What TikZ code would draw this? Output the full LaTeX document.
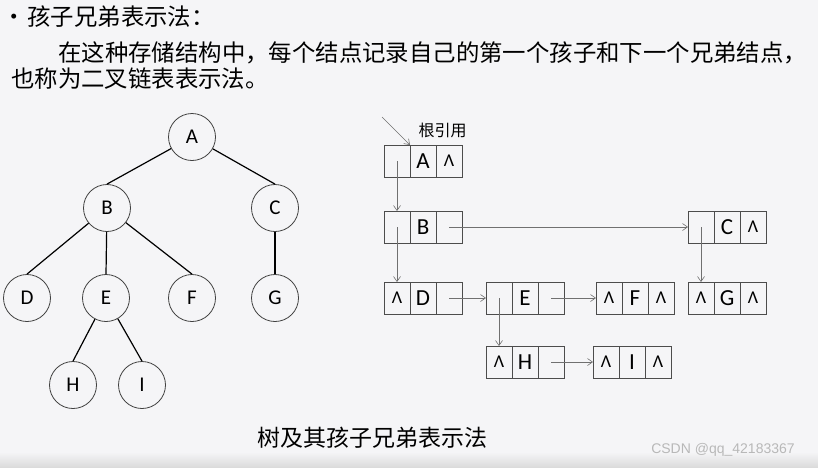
\documentclass[tikz,border=0pt]{standalone}
\usepackage{fontspec}
\setmainfont{Carlito}
\newfontfamily\cjk{Noto Sans CJK SC}
\newfontfamily\wmfont{Liberation Sans}
\usetikzlibrary{arrows.meta,positioning}
\definecolor{bg}{HTML}{F5F5F7}
\definecolor{ptrgray}{HTML}{707070}
\newcommand{\nil}{{\fontsize{18}{18}\selectfont Λ}}
\tikzset{
  treenode/.style={circle, draw=black!75, line width=0.8pt, minimum size=47pt, inner sep=0pt, font=\fontsize{21}{21}\selectfont},
  cell/.style={draw=black!70, line width=0.9pt, minimum width=26pt, minimum height=32pt, inner sep=0pt, outer sep=0pt, font=\fontsize{23}{23}\selectfont},
  ptr/.style={draw=ptrgray, line width=0.6pt, -{Straight Barb[length=5pt,width=7pt]}},
}
\begin{document}
\begin{tikzpicture}[x=1pt, y=-1pt]
    \fill[bg] (0,0) rectangle (818,467);
    \shade[top color=bg, bottom color=black!14] (0,452) rectangle (818,467);
    % heading and text
    \node[anchor=west, inner sep=0pt, font=\cjk\fontsize{23.4}{23.4}\selectfont] (title) at (2,17) {•\hspace{2pt}孩子兄弟表示法：};
    \node[anchor=west, inner sep=0pt, font=\cjk\fontsize{23.4}{23.4}\selectfont] (line1) at (58,53) {在这种存储结构中，每个结点记录自己的第一个孩子和下一个兄弟结点，};
    \node[anchor=west, inner sep=0pt, font=\cjk\fontsize{23.4}{23.4}\selectfont] (line2) at (11,79) {也称为二叉链表表示法。};
    % the tree
    \node[treenode] (A) at (192,137) {A};
    \node[treenode] (B) at (107,208) {B};
    \node[treenode] (C) at (275,208) {C};
    \node[treenode] (D) at (27,298) {D};
    \node[treenode] (E) at (106,298) {E};
    \node[treenode] (F) at (192,298) {F};
    \node[treenode] (G) at (275,298) {G};
    \node[treenode] (H) at (73,385) {H};
    \node[treenode] (I) at (142,385) {I};
    \draw[line width=1.2pt] (A) -- (B.north);
    \draw[line width=1.2pt] (A) -- (C.north);
    \draw[line width=1.2pt] (B) -- (D.north);
    \draw[line width=1.2pt] (B) -- (E.north);
    \draw[line width=1.2pt] (B) -- (F.north);
    \draw[line width=1.2pt] (C) -- (G.north);
    \draw[line width=1.2pt] (E) -- (H.north);
    \draw[line width=1.2pt] (E) -- (I.north);
    % child-sibling list
    \foreach \n/\x/\y/\l/\m/\r in {a/384/161/{}/A/\nil, b/384/227/{}/B/{}, c/688/227/{}/C/\nil,
        d/384/298/\nil/D/{}, e/486/298/{}/E/{}, f/596/298/\nil/F/\nil, g/688/298/\nil/G/\nil,
        h/486/362/\nil/H/{}, i/593/362/\nil/I/\nil} {
      \node[cell, anchor=west] (\n1) at (\x,\y) {\l};
      \node[cell, right=0pt of \n1] (\n2) {\m};
      \node[cell, right=0pt of \n2] (\n3) {\r};
    }
    \coordinate (rootref) at (382,117);
    \node[anchor=west, font=\cjk\fontsize{16}{16}\selectfont] (rootlbl) at (415,130) {根引用};
    \draw[ptr] (rootref) -- (a1.north east);
    \draw[ptr] (a1.center) -- (b1.north);
    \draw[ptr] (b1.center) -- (d1.north);
    \draw[ptr] (b3.center) -- (c1.west);
    \draw[ptr] (c1.center) -- (g1.north);
    \draw[ptr] (d3.center) -- (e1.west);
    \draw[ptr] (e1.center) -- (h1.north);
    \draw[ptr] (e3.center) -- (f1.west);
    \draw[ptr] (h3.center) -- (i1.west);
    % caption
    \node[font=\cjk\fontsize{23}{23}\selectfont] (caption) at (372,438) {树及其孩子兄弟表示法};
    \node[font=\wmfont\fontsize{14}{14}\selectfont, text=black!28] (mark) at (723,450) {CSDN @qq\_42183367};
\end{tikzpicture}
\end{document}
